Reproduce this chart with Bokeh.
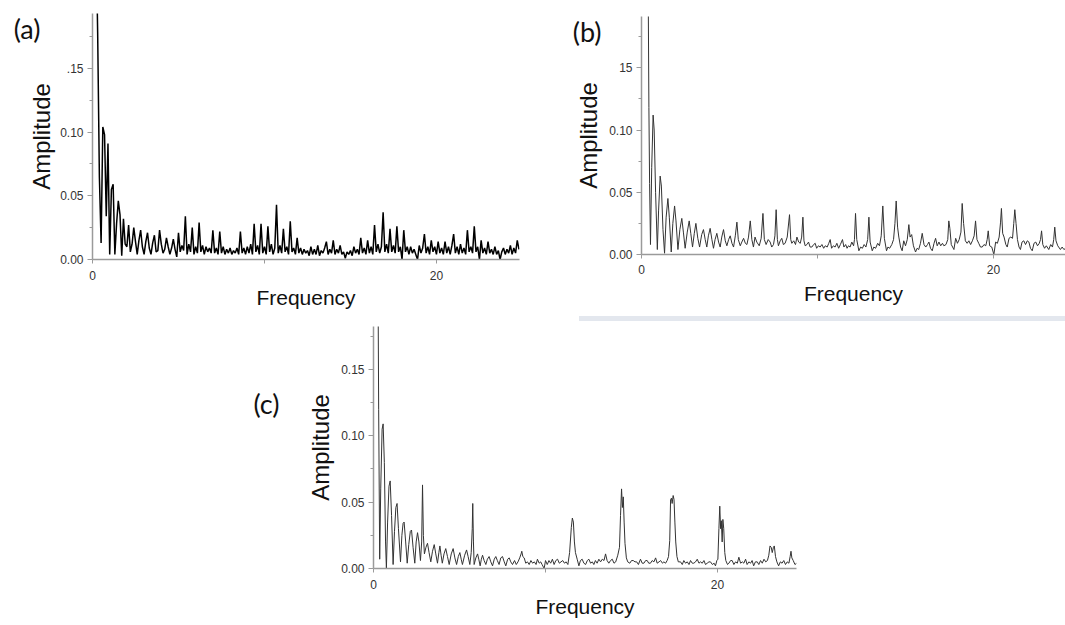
from bokeh.plotting import figure
from bokeh.models import Range1d, FixedTicker, NumeralTickFormatter, LinearAxis, Spacer
from bokeh.layouts import column, row
from bokeh.embed import file_html
from bokeh.resources import INLINE

# ---------------- data ----------------
# panel (a): amplitudes sampled every 0.1 frequency units, from 0.0
freq_step_a = 0.1
amp_a = [
    0.300, 0.300, 0.260, 0.178, 0.065, 0.013, 0.104, 0.098, 0.034, 0.091,
    0.004, 0.055, 0.059, 0.004, 0.028, 0.046, 0.035, 0.003, 0.032, 0.012,
    0.010, 0.027, 0.006, 0.012, 0.025, 0.014, 0.004, 0.015, 0.023, 0.010,
    0.004, 0.014, 0.021, 0.009, 0.004, 0.013, 0.019, 0.006, 0.007, 0.023,
    0.012, 0.005, 0.008, 0.017, 0.010, 0.004, 0.009, 0.016, 0.008, 0.002,
    0.021, 0.006, 0.011, 0.007, 0.034, 0.004, 0.012, 0.006, 0.025, 0.004,
    0.010, 0.005, 0.029, 0.006, 0.011, 0.004, 0.010, 0.006, 0.009, 0.005,
    0.023, 0.005, 0.009, 0.004, 0.022, 0.005, 0.010, 0.004, 0.008, 0.005,
    0.009, 0.004, 0.007, 0.005, 0.009, 0.004, 0.022, 0.005, 0.009, 0.004,
    0.010, 0.005, 0.012, 0.004, 0.028, 0.006, 0.011, 0.004, 0.028, 0.005,
    0.010, 0.004, 0.026, 0.006, 0.012, 0.004, 0.009, 0.043, 0.005, 0.011,
    0.005, 0.024, 0.006, 0.010, 0.004, 0.030, 0.006, 0.009, 0.004, 0.017,
    0.005, 0.009, 0.004, 0.008, 0.005, 0.007, 0.003, 0.010, 0.004, 0.008,
    0.004, 0.011, 0.003, 0.007, 0.005, 0.009, 0.014, 0.004, 0.008, 0.005,
    0.015, 0.004, 0.008, 0.005, 0.011, 0.004, 0.006, 0.001, 0.006, 0.004,
    0.007, 0.003, 0.010, 0.005, 0.008, 0.004, 0.017, 0.005, 0.009, 0.004,
    0.015, 0.005, 0.010, 0.004, 0.027, 0.006, 0.012, 0.005, 0.010, 0.037,
    0.006, 0.012, 0.005, 0.024, 0.006, 0.011, 0.005, 0.026, 0.006, 0.010,
    0.000, 0.023, 0.006, 0.010, 0.004, 0.010, 0.005, 0.008, 0.004, 0.000,
    0.011, 0.005, 0.009, 0.020, 0.005, 0.010, 0.004, 0.015, 0.006, 0.010,
    0.004, 0.014, 0.005, 0.009, 0.004, 0.014, 0.005, 0.010, 0.004, 0.011,
    0.020, 0.005, 0.010, 0.004, 0.012, 0.005, 0.009, 0.004, 0.023, 0.006,
    0.010, 0.005, 0.026, 0.006, 0.010, 0.000, 0.015, 0.005, 0.009, 0.004,
    0.014, 0.005, 0.008, 0.004, 0.010, 0.004, 0.007, 0.000, 0.006, 0.009,
    0.004, 0.008, 0.005, 0.011, 0.004, 0.009, 0.005, 0.015, 0.008,
]
freq_a = [round(i * freq_step_a, 2) for i in range(len(amp_a))]

# panel (b)
freq_b = [
    0.3, 0.39, 0.42, 0.46, 0.51, 0.58, 0.66, 0.72, 0.80, 0.90,
    0.97, 1.06, 1.13, 1.22, 1.31, 1.40, 1.50, 1.58, 1.69,
    1.78, 1.88, 1.96, 2.07, 2.18, 2.29, 2.38, 2.48, 2.6, 2.71, 2.8, 2.9,
    3.0, 3.09, 3.2, 3.3, 3.42, 3.52, 3.62, 3.71, 3.8, 3.9, 4.0, 4.09,
    4.18, 4.28, 4.38, 4.47, 4.56, 4.66, 4.76, 4.85, 4.95, 5.04, 5.14, 5.23,
    5.33, 5.42, 5.5, 5.61, 5.7, 5.8, 5.9, 5.99, 6.08, 6.18, 6.27, 6.36,
    6.45, 6.55, 6.69, 6.8, 6.9, 6.98, 7.08, 7.2, 7.31, 7.4, 7.5, 7.58, 7.65, 7.72, 7.78,
    7.88, 7.97, 8.06, 8.16, 8.28, 8.41, 8.48, 8.54, 8.65, 8.75, 8.83, 8.93, 9.02,
    9.1, 9.17, 9.23, 9.3, 9.4, 9.49, 9.58, 9.68, 9.78, 9.87, 9.95, 10.05, 10.15,
    10.25, 10.35, 10.44, 10.55, 10.64, 10.72, 10.8, 10.9, 11.0, 11.1, 11.2, 11.3, 11.42, 11.5, 11.6, 11.68, 11.76, 11.85, 11.95, 12.05,
    12.1, 12.16, 12.23, 12.35, 12.45, 12.55, 12.65, 12.75, 12.85, 12.92, 12.99, 13.11, 13.2, 13.3, 13.42, 13.52, 13.62, 13.71, 13.8, 13.92,
    14.0, 14.1, 14.22, 14.32, 14.4, 14.47, 14.55, 14.62, 14.72, 14.81, 14.9, 15.0, 15.1, 15.19, 15.26, 15.35, 15.45, 15.57,
    15.66, 15.75, 15.85, 15.95, 16.05, 16.15, 16.25, 16.33, 16.42, 16.52, 16.62, 16.71, 16.8, 16.9, 17.0, 17.1, 17.18, 17.3, 17.4, 17.46, 17.52, 17.6, 17.75,
    17.85, 17.95, 18.05, 18.15, 18.22, 18.3, 18.4, 18.5, 18.6, 18.7, 18.8, 18.9, 18.98, 19.06, 19.16, 19.26, 19.36, 19.46, 19.56, 19.64, 19.7, 19.78, 19.9, 20.02,
    20.12, 20.22, 20.32, 20.4, 20.45, 20.52, 20.6, 20.7, 20.78, 20.88, 20.98, 21.08, 21.15, 21.21, 21.28, 21.36, 21.45, 21.53,
    21.62, 21.72, 21.82, 21.92, 22.01, 22.1, 22.2, 22.3, 22.4, 22.5, 22.6, 22.67, 22.73, 22.8, 22.9, 23.0, 23.14, 23.25, 23.35, 23.42, 23.48, 23.55, 23.65, 23.8, 23.9, 24.0, 24.1,
]
amp_b = [
    0.30, 0.19, 0.118, 0.057, 0.008, 0.07, 0.112, 0.10, 0.05, 0.004,
    0.035, 0.063, 0.055, 0.02, 0.001, 0.03, 0.045, 0.03, 0.002,
    0.025, 0.039, 0.027, 0.004, 0.02, 0.029, 0.018, 0.005, 0.018, 0.027, 0.017, 0.006,
    0.017, 0.025, 0.013, 0.006, 0.016, 0.020, 0.012, 0.006, 0.015, 0.021, 0.012, 0.005,
    0.012, 0.017, 0.010, 0.006, 0.014, 0.020, 0.011, 0.007, 0.012, 0.015, 0.009, 0.006,
    0.015, 0.026, 0.012, 0.007, 0.010, 0.013, 0.009, 0.008, 0.014, 0.027, 0.012, 0.006,
    0.014, 0.010, 0.007, 0.013, 0.033, 0.012, 0.008, 0.012, 0.010, 0.006, 0.008, 0.015, 0.036, 0.012, 0.007,
    0.011, 0.013, 0.008, 0.009, 0.014, 0.032, 0.012, 0.009, 0.011, 0.008, 0.014, 0.010, 0.009,
    0.014, 0.030, 0.011, 0.007, 0.008, 0.010, 0.006, 0.006, 0.008, 0.009, 0.005, 0.007, 0.006,
    0.008, 0.005, 0.007, 0.006, 0.009, 0.012, 0.005, 0.007, 0.006, 0.009, 0.005, 0.008, 0.012, 0.006, 0.008, 0.005, 0.007, 0.006, 0.010, 0.007,
    0.012, 0.033, 0.012, 0.003, 0.006, 0.005, 0.008, 0.006, 0.012, 0.030, 0.010, 0.003, 0.006, 0.005, 0.009, 0.007, 0.015, 0.039, 0.013, 0.003,
    0.006, 0.005, 0.008, 0.012, 0.025, 0.043, 0.022, 0.014, 0.006, 0.003, 0.011, 0.007, 0.012, 0.024, 0.014, 0.016, 0.007, 0.002,
    0.005, 0.004, 0.009, 0.017, 0.008, 0.006, 0.008, 0.010, 0.005, 0.003, 0.009, 0.013, 0.007, 0.010, 0.007, 0.009, 0.007, 0.008, 0.012, 0.027, 0.021, 0.008, 0.004,
    0.013, 0.009, 0.012, 0.018, 0.041, 0.025, 0.011, 0.009, 0.011, 0.008, 0.011, 0.015, 0.027, 0.012, 0.009, 0.006, 0.006, 0.008, 0.007, 0.012, 0.019, 0.007, 0.006, 0.000,
    0.010, 0.009, 0.014, 0.026, 0.037, 0.017, 0.014, 0.008, 0.006, 0.013, 0.014, 0.013, 0.025, 0.036, 0.025, 0.012, 0.006, 0.004,
    0.010, 0.011, 0.008, 0.011, 0.010, 0.005, 0.003, 0.009, 0.010, 0.007, 0.009, 0.012, 0.019, 0.008, 0.005, 0.007, 0.004, 0.008, 0.006, 0.012, 0.022, 0.011, 0.007, 0.004, 0.006, 0.004, 0.005,
]

# panel (c)
freq_c = [
    0.15, 0.25, 0.30, 0.36, 0.42, 0.5, 0.56, 0.63, 0.7, 0.75,
    0.82, 0.9, 0.97, 1.05, 1.14, 1.22, 1.3, 1.37, 1.45, 1.57,
    1.65, 1.72, 1.78, 1.87, 1.96, 2.05, 2.14, 2.21, 2.3, 2.4,
    2.48, 2.56, 2.64, 2.73, 2.8, 2.85, 2.9, 2.96, 3.05, 3.14, 3.23, 3.33,
    3.43, 3.53, 3.62, 3.72, 3.8, 3.86, 3.93, 4.0, 4.1, 4.2, 4.3, 4.4,
    4.52, 4.63, 4.73, 4.83, 4.93, 5.02, 5.1, 5.17, 5.3, 5.41, 5.5, 5.6, 5.68, 5.74, 5.77, 5.81, 5.85,
    5.95, 6.05, 6.12, 6.2, 6.27, 6.34, 6.43, 6.53, 6.62, 6.72, 6.82, 6.92, 7.02, 7.11, 7.2, 7.3, 7.4, 7.5, 7.6, 7.69,
    7.8, 7.89, 7.98, 8.08, 8.2, 8.3, 8.4, 8.5, 8.58, 8.62, 8.68, 8.76, 8.85, 8.95, 9.05, 9.15, 9.25, 9.35, 9.45, 9.53, 9.63, 9.72, 9.8, 9.92,
    10.0, 10.1, 10.2, 10.3, 10.4, 10.5, 10.6, 10.7, 10.8, 10.9, 11.0, 11.1, 11.2, 11.3, 11.4, 11.5, 11.56, 11.62, 11.68, 11.74, 11.84, 11.94,
    12.03, 12.13, 12.23, 12.33, 12.43, 12.52, 12.62, 12.72, 12.81, 12.9, 13.0, 13.1, 13.2, 13.3, 13.4, 13.49, 13.58, 13.68, 13.78, 13.88, 13.98, 14.08, 14.2, 14.3, 14.36, 14.42, 14.47, 14.52, 14.57, 14.62, 14.7, 14.78,
    14.9, 15.0, 15.1, 15.2, 15.3, 15.4, 15.52, 15.62, 15.72, 15.82, 15.91, 16.0, 16.1, 16.2, 16.3, 16.4, 16.49, 16.6, 16.69, 16.8, 16.88, 16.98, 17.07, 17.15, 17.22, 17.27, 17.32, 17.36, 17.42, 17.47, 17.52, 17.57, 17.64, 17.72,
    17.85, 17.95, 18.04, 18.14, 18.24, 18.34, 18.43, 18.53, 18.62, 18.72, 18.82, 18.92, 19.01, 19.11, 19.21, 19.3, 19.4, 19.5, 19.59, 19.7, 19.8, 19.88, 19.96, 20.02, 20.08, 20.13, 20.18, 20.22, 20.27, 20.31, 20.36, 20.42, 20.48,
    20.58, 20.66, 20.76, 20.85, 20.95, 21.05, 21.15, 21.24, 21.34, 21.44, 21.53, 21.63, 21.72, 21.82, 21.92, 22.01, 22.1, 22.2, 22.31, 22.4, 22.5, 22.6, 22.7, 22.8, 22.9, 22.98, 23.05, 23.12, 23.18, 23.25, 23.3, 23.37, 23.45,
    23.55, 23.65, 23.75, 23.85, 23.95, 24.05, 24.15, 24.22, 24.27, 24.32, 24.4, 24.5, 24.6,
]
amp_c = [
    0.30, 0.25, 0.12, 0.007, 0.06, 0.105, 0.109, 0.08, 0.02, 0.0,
    0.035, 0.062, 0.066, 0.04, 0.003, 0.028, 0.046, 0.049, 0.03, 0.005,
    0.025, 0.034, 0.035, 0.02, 0.004, 0.018, 0.028, 0.029, 0.016, 0.004,
    0.02, 0.027, 0.02, 0.006, 0.02, 0.063, 0.025, 0.011, 0.016, 0.019, 0.012, 0.005,
    0.013, 0.018, 0.011, 0.004, 0.012, 0.017, 0.01, 0.004, 0.011, 0.015, 0.009, 0.003,
    0.011, 0.015, 0.008, 0.003, 0.009, 0.012, 0.007, 0.003, 0.01, 0.014, 0.009, 0.003, 0.012, 0.030, 0.049, 0.02, 0.003,
    0.008, 0.011, 0.007, 0.002, 0.007, 0.010, 0.006, 0.003, 0.007, 0.009, 0.005, 0.002, 0.007, 0.009, 0.006, 0.003, 0.008, 0.009, 0.005, 0.002,
    0.007, 0.008, 0.005, 0.003, 0.006, 0.003, 0.005, 0.008, 0.011, 0.013, 0.009, 0.008, 0.004, 0.005, 0.003, 0.006, 0.004, 0.005, 0.003, 0.007, 0.004, 0.005, 0.003, 0.0,
    0.006, 0.003, 0.006, 0.004, 0.007, 0.003, 0.006, 0.007, 0.004, 0.005, 0.006, 0.004, 0.005, 0.003, 0.012, 0.031, 0.038, 0.035, 0.02, 0.012, 0.007, 0.002,
    0.006, 0.007, 0.004, 0.003, 0.006, 0.007, 0.004, 0.005, 0.003, 0.006, 0.004, 0.007, 0.005, 0.007, 0.006, 0.011, 0.006, 0.004, 0.006, 0.007, 0.004, 0.005, 0.01, 0.016, 0.04, 0.060, 0.046, 0.054, 0.035, 0.019, 0.008, 0.005,
    0.004, 0.006, 0.006, 0.005, 0.005, 0.003, 0.007, 0.004, 0.004, 0.006, 0.006, 0.004, 0.004, 0.006, 0.005, 0.008, 0.004, 0.005, 0.006, 0.004, 0.005, 0.004, 0.006, 0.009, 0.021, 0.052, 0.053, 0.049, 0.055, 0.052, 0.035, 0.02, 0.009, 0.005,
    0.005, 0.003, 0.006, 0.004, 0.005, 0.003, 0.006, 0.004, 0.004, 0.005, 0.007, 0.004, 0.005, 0.004, 0.006, 0.003, 0.004, 0.005, 0.005, 0.003, 0.004, 0.002, 0.006, 0.007, 0.03, 0.047, 0.03, 0.036, 0.02, 0.037, 0.03, 0.012, 0.006,
    0.003, 0.004, 0.006, 0.006, 0.003, 0.005, 0.004, 0.0085, 0.004, 0.005, 0.004, 0.007, 0.003, 0.005, 0.004, 0.006, 0.002, 0.005, 0.005, 0.003, 0.006, 0.004, 0.007, 0.005, 0.006, 0.01, 0.017, 0.016, 0.012, 0.016, 0.017, 0.009, 0.005,
    0.002, 0.005, 0.004, 0.006, 0.003, 0.005, 0.004, 0.009, 0.013, 0.008, 0.006, 0.003, 0.004,
]

y_major_ticks = [0.0, 0.05, 0.10, 0.15]
y_minor_ticks = [0.025, 0.075, 0.125, 0.175]
x_major_ticks = [0, 20]
x_minor_ticks = [10]

# panel tags and the amplitude level at which each sits
tags = ["(a)", "(b)", "(c)"]
tag_levels = [0.181, 0.1795, 0.1243]

assert len(freq_b) == len(amp_b), (len(freq_b), len(amp_b))
assert len(freq_c) == len(amp_c), (len(freq_c), len(amp_c))

AX_FONT = "Liberation Sans"


def make_panel(freq, amp, width, height, borders, xmax, ymax, tag, tag_y,
               tag_standoff, y_overrides, line_color, line_width,
               ylab_standoff, xtick_standoff, xlab_standoff):
    left, right, top, bottom = borders
    p = figure(width=width, height=height,
               x_range=Range1d(0, xmax), y_range=Range1d(0, ymax),
               output_backend="svg", toolbar_location=None,
               min_border_left=left, min_border_right=right,
               min_border_top=top, min_border_bottom=bottom,
               x_axis_label="Frequency", y_axis_label="Amplitude")
    p.outline_line_color = None
    p.grid.visible = False
    p.background_fill_color = "white"
    p.border_fill_color = "white"

    p.line(freq, amp, line_color=line_color, line_width=line_width)

    xa = p.xaxis[0]
    ya = p.yaxis[0]
    xa.ticker = FixedTicker(ticks=x_major_ticks, minor_ticks=x_minor_ticks)
    ya.ticker = FixedTicker(ticks=y_major_ticks, minor_ticks=y_minor_ticks)
    ya.formatter = NumeralTickFormatter(format="0.00")
    if y_overrides:
        ya.major_label_overrides = y_overrides
    for ax in (xa, ya):
        ax.axis_line_color = "#9a9a9a"
        ax.axis_line_width = 1.5
        ax.major_tick_line_color = "#9a9a9a"
        ax.minor_tick_line_color = "#9a9a9a"
        ax.major_tick_in = 0
        ax.minor_tick_in = 0
        ax.major_label_text_font = AX_FONT
        ax.major_label_text_font_size = "12px"
        ax.major_label_text_color = "#333333"
        ax.axis_label_text_font = AX_FONT
        ax.axis_label_text_font_style = "normal"
        ax.axis_label_text_color = "#111111"
    xa.major_tick_out = 4
    xa.minor_tick_out = 4
    ya.major_tick_out = 5
    ya.minor_tick_out = 3
    ya.major_label_standoff = 4
    xa.major_label_standoff = xtick_standoff
    ya.axis_label_text_font_size = "24px"
    xa.axis_label_text_font_size = "21px"
    ya.axis_label_standoff = ylab_standoff
    xa.axis_label_standoff = xlab_standoff

    # panel tag: an outer left axis carrying one horizontal label
    tag_axis = LinearAxis(
        ticker=FixedTicker(ticks=[tag_y], minor_ticks=[]),
        major_label_overrides={tag_y: tag},
        axis_line_color=None, major_tick_line_color=None,
        minor_tick_line_color=None, major_tick_in=0, major_tick_out=0,
        minor_tick_in=0, minor_tick_out=0,
        major_label_standoff=tag_standoff,
        major_label_text_font="Lato", major_label_text_font_size="27px",
        major_label_text_color="#111111",
    )
    p.add_layout(tag_axis, "left")
    return p


pa = make_panel(freq_a, amp_a, 530, 316, (92, 11, 13, 57), 24.83, 0.193,
                tags[0], tag_levels[0], -15, {0.15: ".15"}, "#000000", 1.5,
                2, 7, 3)
pb = make_panel(freq_b, amp_b, 535, 316, (111, 0, 16, 62), 24.09, 0.1912,
                tags[1], tag_levels[1], -29, {0.15: "15"}, "#333333", 1.0,
                4, 6, 5)
pc = make_panel(freq_c, amp_c, 570, 304, (133, 14, 5, 57), 24.59, 0.1824,
                tags[2], tag_levels[2], 25, None, "#333333", 1.0,
                4, 7, 3)

band = Spacer(width=486, height=5, styles={"background-color": "#e3e7ee"})

layout = column(
    row(column(pa), column(pb)),
    row(Spacer(width=579, height=5), band),
    row(Spacer(width=240, height=304), pc),
)

open("out.html", "w").write(file_html(layout, INLINE))
